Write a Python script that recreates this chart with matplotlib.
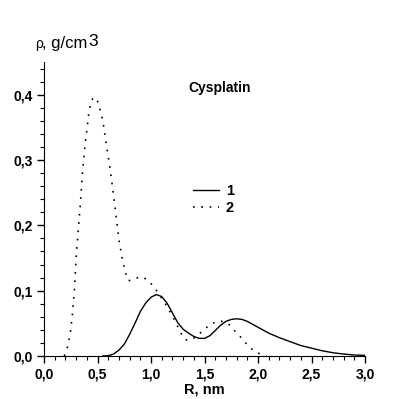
import numpy as np
import matplotlib
matplotlib.use('Agg')
import matplotlib.pyplot as plt
from matplotlib.ticker import MultipleLocator, FormatStrFormatter

plt.rcParams['font.family'] = ['Liberation Sans', 'DejaVu Sans']

# curve 1 (solid)
r1 = [0.55, 0.60, 0.65, 0.70, 0.75, 0.80, 0.85, 0.90, 0.95, 1.00, 1.05, 1.10,
      1.15, 1.20, 1.25, 1.30, 1.35, 1.40, 1.45, 1.50, 1.55, 1.60, 1.65, 1.70,
      1.75, 1.80, 1.85, 1.90, 2.00, 2.10, 2.20, 2.30, 2.40, 2.50, 2.60, 2.70,
      2.80, 2.90, 3.00]
rho1 = [0.0, 0.0005, 0.003, 0.009, 0.018, 0.033, 0.050, 0.068, 0.081, 0.090, 0.094, 0.091,
        0.081, 0.066, 0.051, 0.041, 0.035, 0.030, 0.027, 0.027, 0.031, 0.039, 0.047, 0.053,
        0.056, 0.057, 0.056, 0.053, 0.044, 0.035, 0.028, 0.022, 0.016, 0.012, 0.008, 0.005,
        0.003, 0.0015, 0.001]

# curve 2 (dotted)
r2 = [0.19, 0.22, 0.245, 0.265, 0.285, 0.30, 0.32, 0.34, 0.36, 0.38, 0.40, 0.42,
      0.445, 0.47, 0.49, 0.51, 0.55, 0.59, 0.62, 0.66, 0.70, 0.73, 0.76, 0.79,
      0.85, 0.92, 0.98, 1.03, 1.07, 1.15, 1.22, 1.28, 1.32, 1.37, 1.44, 1.50,
      1.56, 1.62, 1.68, 1.74, 1.79, 1.85, 1.90, 1.96, 2.02, 2.08]
rho2 = [0.0, 0.014, 0.034, 0.063, 0.103, 0.150, 0.192, 0.233, 0.282, 0.317, 0.345, 0.373,
        0.392, 0.396, 0.394, 0.386, 0.360, 0.316, 0.284, 0.233, 0.178, 0.150, 0.128, 0.115,
        0.119, 0.121, 0.115, 0.105, 0.096, 0.076, 0.055, 0.035, 0.025, 0.024, 0.032, 0.041,
        0.049, 0.053, 0.053, 0.047, 0.037, 0.027, 0.017, 0.008, 0.003, 0.0]

fig = plt.figure(figsize=(4.13, 3.99), dpi=100)
ax = fig.add_axes([44/413, 1-356/399, 321/413, 294/399])

ax.plot(r1, rho1, color='black', lw=1.0, label='1')
ax.plot(r2, rho2, color='black', lw=1.2, linestyle=(0, (1, 4)), label='2')

ax.set_xlim(0, 3.0)
ax.set_ylim(0, 0.45)
ax.spines['top'].set_visible(False)
ax.spines['right'].set_visible(False)
ax.xaxis.set_major_locator(MultipleLocator(0.5))
ax.xaxis.set_minor_locator(MultipleLocator(0.1))
ax.yaxis.set_major_locator(MultipleLocator(0.1))
ax.yaxis.set_minor_locator(MultipleLocator(0.02))
ax.xaxis.set_major_formatter(FormatStrFormatter('%.1f'))
ax.yaxis.set_major_formatter(FormatStrFormatter('%.1f'))
fig.canvas.draw()
ax.set_xticklabels([t.get_text().replace('.', ',') for t in ax.get_xticklabels()])
ax.set_yticklabels([t.get_text().replace('.', ',') for t in ax.get_yticklabels()])
ax.tick_params(which='major', length=5, width=1, labelsize=10, pad=3)
ax.tick_params(which='minor', length=3, width=0.8)
for t in ax.get_xticklabels() + ax.get_yticklabels():
    t.set_fontweight('bold')

ax.set_xlabel('R, nm', fontsize=10.5, fontweight='bold', labelpad=1)

ax.text(0.548, 0.912, 'Cysplatin', transform=ax.transAxes, fontsize=10,
        fontweight='bold', ha='center', va='center')

leg = ax.legend(loc='center left', bbox_to_anchor=(0.464, 0.532), frameon=False,
                borderaxespad=0, borderpad=0, handlelength=1.8, handletextpad=0.45,
                labelspacing=0.25, prop={'weight': 'bold', 'size': 10.5})

# y label: rho, g/cm3 built from pieces
t1 = fig.text(35/413, 1-48/399, 'ρ', fontsize=10, va='baseline')
t2 = fig.text(42/413, 1-48/399, ', g/cm', fontsize=12, va='baseline')
fig.canvas.draw()
bb = t2.get_window_extent()
fig.text((bb.x1 + 1)/413, 1-46/399, '3', fontsize=12.5, va='baseline')

fig.savefig('out.png', dpi=100)
